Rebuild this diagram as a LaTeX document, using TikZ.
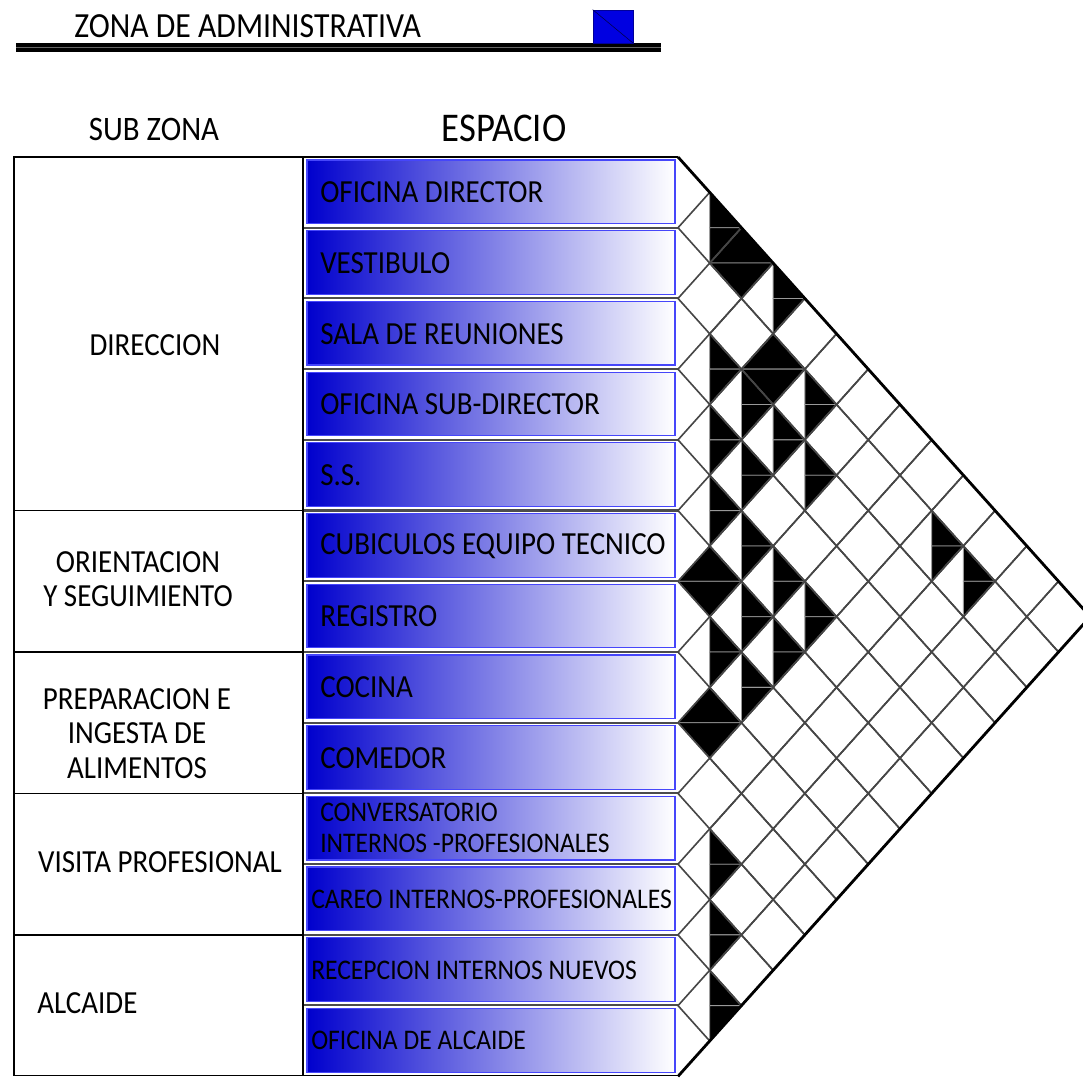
\documentclass[tikz,border=0pt]{standalone}
\usepackage{fontspec}
\setmainfont{Carlito}[FakeStretch=0.9]
\usepackage{tikz}
\usetikzlibrary{positioning}
\definecolor{zonablue}{RGB}{0, 0, 205}
\definecolor{muestrablue}{RGB}{0, 0, 225}
\definecolor{cajaedge}{RGB}{70, 70, 250}
\definecolor{gridgray}{RGB}{70, 70, 70}

\tikzset{
  caja/.style={draw=cajaedge, line width=0.8pt, left color=zonablue, right color=white,
               minimum width=9.2cm, minimum height=1.59cm, inner sep=0pt},
  rotulo/.style={anchor=west, inner sep=0pt, align=left, font=\fontsize{22.9}{24}\selectfont},
  rotulochico/.style={rotulo, font=\fontsize{20.2}{22}\selectfont},
  subzona/.style={inner sep=0pt, align=center, font=\fontsize{22.9}{24.3}\selectfont},
  marco/.style={line width=1.2pt},
  celda/.style={draw=gridgray, line width=1.15pt},
  lleno/.style={fill=black, draw=black!40, line width=0.6pt},
  borde/.style={line width=2pt, line join=miter},
}

\begin{document}
\begin{tikzpicture}[x=0.025cm, y=-0.025cm]
  \useasboundingbox (0,0) rectangle (1083,1077);
  \clip (0,0) rectangle (1083,1077);

  % encabezado
  \node[anchor=west, inner sep=0pt, font=\fontsize{25.1}{26}\selectfont] (zona) at (74,26) {ZONA DE ADMINISTRATIVA};
  \draw[line width=2.4pt, double=black!60, double distance=0.9pt] (16,47.5) -- (661,47.5);
  \node[draw=blue!60!black, line width=0.5pt, fill=muestrablue, minimum width=1cm,
        minimum height=0.825cm, inner sep=0pt] (muestra) at (613,26.5) {};
  \draw[blue!30!black, line width=0.4pt] (muestra.north west) -- (muestra.south east);

  \node[inner sep=0pt, font=\fontsize{24.4}{26}\selectfont] (subzona) at (154,129) {SUB ZONA};
  \node[inner sep=0pt, font=\fontsize{29}{30}\selectfont] (espacio) at (504,128.5) {ESPACIO};

  % espacios
  \foreach \i in {1,...,13}
    \node[caja] (caja\i) at (491,{157+70.7*(\i-0.5)-0.5}) {};
  \foreach \k in {1,...,12}
    \draw[black!70, line width=1.5pt] (303,{157+70.7*\k}) -- (678,{157+70.7*\k});

  \foreach \i/\txt in {1/OFICINA DIRECTOR, 2/VESTIBULO, 3/SALA DE REUNIONES,
                       4/OFICINA SUB-DIRECTOR, 5/S.S., 6/CUBICULOS EQUIPO TECNICO,
                       7/REGISTRO, 8/COCINA, 9/COMEDOR}
    \node[rotulo] (esp\i) at (320,{157+70.7*(\i-0.5)}) {\txt};
  \node[rotulochico] (esp10) at (320,828) {CONVERSATORIO\\INTERNOS -PROFESIONALES};
  \node[rotulochico] (esp11) at (311,899.4) {CAREO INTERNOS-PROFESIONALES};
  \node[rotulochico] (esp12) at (311,970) {RECEPCION INTERNOS NUEVOS};
  \node[rotulochico] (esp13) at (311,1040.8) {OFICINA DE ALCAIDE};

  % sub zonas
  \draw[marco] (14,157) rectangle (303,1075.5);
  \foreach \y in {510.5, 652, 793.4, 934.8}
    \draw[marco] (14,\y) -- (303,\y);
  \draw[line width=2pt] (303,157) -- (303,1075.5);
  \draw[marco] (303,1075.5) -- (678,1075.5);

  \node[subzona] (dir) at (155,345) {DIRECCION};
  \node[subzona] (ori) at (138,579) {ORIENTACION\\Y SEGUIMIENTO};
  \node[subzona] (prep) at (137,733.5) {PREPARACION E\\INGESTA DE\\ALIMENTOS};
  \node[subzona] (vis) at (160,862) {VISITA PROFESIONAL};
  \node[subzona, anchor=west] (alc) at (37,1003) {ALCAIDE};

  % matriz de relaciones
  \begin{scope}[shift={(678,157)}, x=0.7925cm, y=-0.88375cm]
    \foreach \u/\v in {2/3, 3/6, 1/12, 1/16} {
      \filldraw[lleno] ({\u-1},\v) -- (\u,{\v-1}) -- ({\u+1},\v) -- cycle;
      \filldraw[lleno] ({\u-1},\v) -- ({\u+1},\v) -- (\u,{\v+1}) -- cycle;
    }
    \foreach \u/\v in {1/2, 3/4, 1/6, 2/7, 4/7, 1/8, 3/8, 2/9, 4/9, 1/10, 2/11, 8/11,
                       3/12, 9/12, 2/13, 4/13, 1/14, 3/14, 2/15, 1/20, 1/22, 1/24} {
      \filldraw[lleno] (\u,{\v-1}) -- ({\u+1},\v) -- (\u,\v) -- cycle;
      \filldraw[lleno] (\u,\v) -- ({\u+1},\v) -- (\u,{\v+1}) -- cycle;
    }
    \foreach \i in {1,...,12} {
      \foreach \j in {\i,...,12} {
        \pgfmathtruncatemacro{\u}{\j+1-\i}
        \pgfmathtruncatemacro{\v}{\i+\j}
        \draw[celda] ({\u-1},\v) -- (\u,{\v-1}) -- ({\u+1},\v) -- (\u,{\v+1}) -- cycle;
      }
    }
    \draw[borde] (0,0) -- (13,13) -- (0,26);
  \end{scope}
  \draw[borde] (14,157) -- (678,157);
\end{tikzpicture}
\end{document}
